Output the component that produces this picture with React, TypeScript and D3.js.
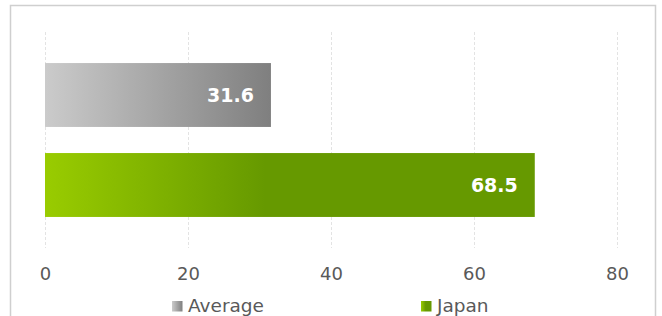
import { useRef, useEffect } from "react";
import * as d3 from "d3";

const categories = ["Average", "Japan"];
const values = [31.6, 68.5];
const tickValues = [0, 20, 40, 60, 80];
const gradStops = [
  ["#cbcbcb", "#a5a5a5", "#7f7f7f"],
  ["#99cc00", "#669900", "#669900"],
];

export default function App() {
  const svgRef = useRef<SVGSVGElement>(null);

  useEffect(() => {
    const width = 662;
    const height = 316;
    const svg = d3.select(svgRef.current);
    svg.selectAll("*").remove();
    svg.attr("width", width).attr("height", height).style("font-family", "'DejaVu Sans', sans-serif");

    const defs = svg.append("defs");
    gradStops.forEach((stops, i) => {
      const g = defs.append("linearGradient").attr("id", `grad${i}`).attr("x1", "0%").attr("x2", "100%").attr("y1", "0%").attr("y2", "0%");
      const offs = i === 0 ? ["0%", "50%", "100%"] : ["0%", "45%", "100%"];
      stops.forEach((c, j) => g.append("stop").attr("offset", offs[j]).attr("stop-color", c));
    });

    // chart area border
    svg.append("rect")
      .attr("x", 10.5).attr("y", 5.5)
      .attr("width", 645).attr("height", 330)
      .attr("fill", "#fff").attr("stroke", "#cfcfcf").attr("stroke-width", 1.5);

    const x = d3.scaleLinear().domain([0, 80]).range([45, 617]);
    const y = d3.scaleBand().domain(categories).range([32, 248]).paddingInner(0.29).paddingOuter(0.345);

    // gridlines
    svg.append("g")
      .selectAll("line")
      .data(tickValues)
      .join("line")
      .attr("x1", (d) => Math.round(x(d)) + 0.5)
      .attr("x2", (d) => Math.round(x(d)) + 0.5)
      .attr("y1", 32)
      .attr("y2", 248)
      .attr("stroke", "#e3e3e3")
      .attr("stroke-dasharray", "3,2");

    // axis labels
    const axis = svg.append("g").attr("transform", "translate(0,280)")
      .call(d3.axisBottom(x).tickValues(tickValues).tickSize(0).tickPadding(0));
    axis.select(".domain").remove();
    axis.selectAll("text")
      .attr("dy", 0)
      .attr("font-size", "18px")
      .attr("font-family", "'DejaVu Sans', sans-serif")
      .attr("fill", "#595959");

    // bars
    svg.append("g")
      .selectAll("rect")
      .data(values)
      .join("rect")
      .attr("x", x(0))
      .attr("y", (d, i) => y(categories[i]) as number)
      .attr("width", (d) => x(d) - x(0))
      .attr("height", y.bandwidth())
      .attr("fill", (d, i) => `url(#grad${i})`);

    // value labels
    svg.append("g")
      .selectAll("text")
      .data(values)
      .join("text")
      .attr("x", (d) => x(d) - 17)
      .attr("y", (d, i) => (y(categories[i]) as number) + y.bandwidth() / 2)
      .attr("dy", "0.38em")
      .attr("text-anchor", "end")
      .attr("font-size", "19px")
      .attr("font-weight", "bold")
      .attr("fill", "#fff")
      .text((d) => d.toFixed(1));

    // legend
    const legendX = [172, 421];
    const lg = svg.append("g")
      .selectAll("g")
      .data(categories)
      .join("g")
      .attr("transform", (d, i) => `translate(${legendX[i]},301)`);
    lg.append("rect").attr("width", 10.5).attr("height", 10.5).attr("fill", (d, i) => `url(#grad${i})`);
    lg.append("text")
      .attr("x", 16)
      .attr("y", 11)
      .attr("font-size", "18.5px")
      .attr("fill", "#595959")
      .text((d) => d);
  }, []);

  return <svg ref={svgRef} style={{ position: "absolute", left: 0, top: 0 }} />;
}
